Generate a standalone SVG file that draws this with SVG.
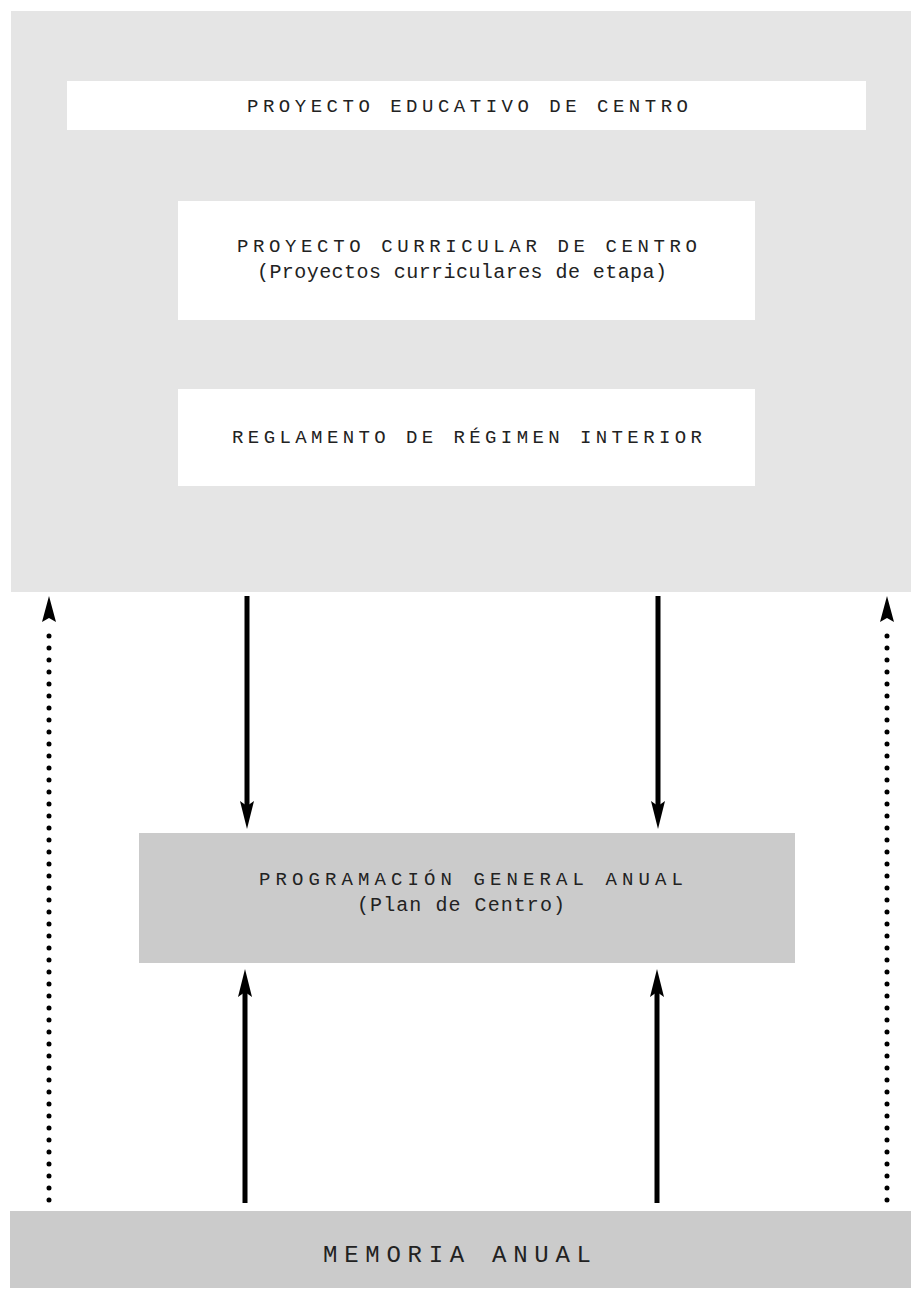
<svg xmlns="http://www.w3.org/2000/svg" width="911" height="1297" viewBox="0 0 911 1297">
<style>
.t{font-family:"Liberation Mono","DejaVu Sans Mono",monospace;fill:#222;}
.cap{font-size:19px;}
.low{font-size:20px;}
.big{font-size:24px;}
.solid{stroke:#000;stroke-width:5;fill:none;}
.dot{stroke:#000;stroke-width:5;stroke-linecap:round;stroke-dasharray:0 12;fill:none;}
.head{fill:#000;}
</style>
<rect width="911" height="1297" fill="#fff"/>
<g id="marco">
<rect x="11" y="11" width="900" height="581" fill="#e5e5e5"/>
</g>
<g id="pec">
<rect x="67" y="81" width="799" height="49" fill="#fff"/>
<text class="t cap" x="247" y="112" textLength="441" lengthAdjust="spacing">PROYECTO EDUCATIVO DE CENTRO</text>
</g>
<g id="pcc">
<rect x="178" y="201" width="577" height="119" fill="#fff"/>
<text class="t cap" x="237" y="252" textLength="460" lengthAdjust="spacing">PROYECTO CURRICULAR DE CENTRO</text>
<text class="t low" x="257" y="278" textLength="410" lengthAdjust="spacing">(Proyectos curriculares de etapa)</text>
</g>
<g id="rri">
<rect x="178" y="389" width="577" height="97" fill="#fff"/>
<text class="t cap" x="232" y="443" textLength="470" lengthAdjust="spacing">REGLAMENTO DE RÉGIMEN INTERIOR</text>
</g>
<g id="pga">
<rect x="139" y="833" width="656" height="130" fill="#cbcbcb"/>
<text class="t cap" x="259" y="885" textLength="424" lengthAdjust="spacing">PROGRAMACIÓN GENERAL ANUAL</text>
<text class="t low" x="357" y="911" textLength="208" lengthAdjust="spacing">(Plan de Centro)</text>
</g>
<g id="memoria">
<rect x="10" y="1211" width="901" height="77" fill="#cbcbcb"/>
<text class="t big" x="323" y="1262" textLength="268" lengthAdjust="spacing">MEMORIA ANUAL</text>
</g>
<g id="conectores">
<line class="solid" x1="247" y1="596" x2="247" y2="806"/>
<path class="head" d="M240,801 L247,806 L254,801 L247,829 Z"/>
<line class="solid" x1="658" y1="596" x2="658" y2="806"/>
<path class="head" d="M651,801 L658,806 L665,801 L658,829 Z"/>
<line class="solid" x1="245" y1="1203" x2="245" y2="992"/>
<path class="head" d="M238,997 L245,992 L252,997 L245,969 Z"/>
<line class="solid" x1="657" y1="1203" x2="657" y2="992"/>
<path class="head" d="M650,997 L657,992 L664,997 L657,969 Z"/>
<line class="dot" x1="49" y1="1200" x2="49" y2="625"/>
<path class="head" d="M42,622 L49,618 L56,622 L49,596 Z"/>
<line class="dot" x1="887" y1="1200" x2="887" y2="625"/>
<path class="head" d="M880,622 L887,618 L894,622 L887,596 Z"/>
</g>
</svg>
